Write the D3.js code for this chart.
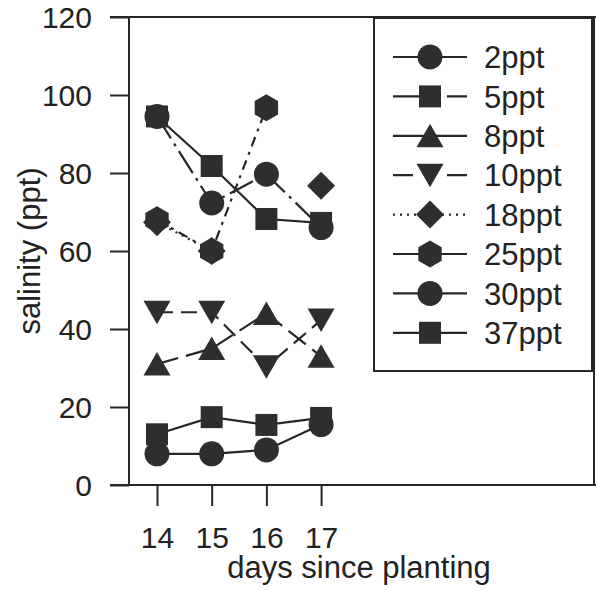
<!DOCTYPE html>
<html>
<head>
<meta charset="utf-8">
<script src="https://cdn.jsdelivr.net/npm/d3@7"></script>
<style>
  body { margin: 0; background: #fff; }
  svg { display: block; }
  text { font-family: "Liberation Sans", Arial, sans-serif; fill: #222; }
</style>
</head>
<body>
<div id="chart"></div>
<script>
// days on the x axis
var days = [14, 15, 16, 17];
var yTicks = [0, 20, 40, 60, 80, 100, 120];

// salinity, one array per treatment (null = no point)
var s2 = [8, 8, 9, 15.5];
var s5 = [13, 17.4, 15.4, 17.2];
var s8 = [31, 35, 44, 33];
var s10 = [44.3, 44.3, 30.3, 42.3];
var s18 = [67.4, 60, null, 76.7];
var s25 = [68, 60, 96.7, null];
var s30 = [94.5, 72.3, 79.7, 66];
var s37 = [94.5, 81.8, 68.2, 67.2];

var seriesNames = ["2ppt", "5ppt", "8ppt", "10ppt", "18ppt", "25ppt", "30ppt", "37ppt"];
var seriesValues = [s2, s5, s8, s10, s18, s25, s30, s37];
var seriesShapes = ["circle", "square", "up", "down", "diamond", "hexagon", "circle", "square"];
var seriesDash = [null, null, "22,8", "16,8", "2,5", "10,6,3,6", "26,6,3,6", null];
// how the short legend segments look
var legendDash = [null, "48,6,30", null, "20,34,30", "2,5", null, null, null];

var W = 597, H = 590;
var ink = "#262626";

var svg = d3.select("#chart").append("svg")
  .attr("width", W)
  .attr("height", H);

var x = d3.scaleLinear().domain([13.488, 21.99]).range([129, 594]);
var y = d3.scaleLinear().domain([0, 120]).range([485, 17]);

// marker outlines
function shape(kind) {
  var p = d3.path();
  if (kind == "circle") {
    p.arc(0, 0, 12.5, 0, 2 * Math.PI);
  } else if (kind == "square") {
    p.rect(-11, -11, 22, 22);
  } else if (kind == "up") {
    p.moveTo(0, -12); p.lineTo(13.5, 11.5); p.lineTo(-13.5, 11.5); p.closePath();
  } else if (kind == "down") {
    p.moveTo(0, 12); p.lineTo(13.5, -11.5); p.lineTo(-13.5, -11.5); p.closePath();
  } else if (kind == "diamond") {
    p.moveTo(0, -14); p.lineTo(14, 0); p.lineTo(0, 14); p.lineTo(-14, 0); p.closePath();
  } else if (kind == "hexagon") {
    for (var i = 0; i < 6; i++) {
      var a = -Math.PI / 2 + i * Math.PI / 3;
      if (i == 0) p.moveTo(13.5 * Math.cos(a), 13.5 * Math.sin(a));
      else p.lineTo(13.5 * Math.cos(a), 13.5 * Math.sin(a));
    }
    p.closePath();
  }
  return p.toString();
}

// frame
svg.append("line").attr("x1", 110).attr("x2", 596).attr("y1", y(120)).attr("y2", y(120))
  .attr("stroke", ink).attr("stroke-width", 2);
svg.append("line").attr("x1", 110).attr("x2", 596).attr("y1", y(0)).attr("y2", y(0))
  .attr("stroke", ink).attr("stroke-width", 2);
svg.append("line").attr("x1", 129).attr("x2", 129).attr("y1", y(120)).attr("y2", y(0))
  .attr("stroke", ink).attr("stroke-width", 2);
svg.append("line").attr("x1", 594).attr("x2", 594).attr("y1", y(120)).attr("y2", y(0))
  .attr("stroke", ink).attr("stroke-width", 2);

// y axis: ticks sticking out to the left
var yAxis = svg.append("g")
  .attr("transform", "translate(129,0)")
  .call(d3.axisLeft(y).tickValues(yTicks).tickSize(19).tickPadding(18).tickSizeOuter(0));
yAxis.select(".domain").remove();
yAxis.selectAll("line").attr("stroke", ink).attr("stroke-width", 2);
yAxis.selectAll("text").style("font-size", "30px").style("font-family", "Liberation Sans, Arial, sans-serif")
  .attr("fill", ink).attr("dy", "0.36em");

// x axis: ticks below the bottom line
var xAxis = svg.append("g")
  .attr("transform", "translate(0," + (y(0) + 1) + ")")
  .call(d3.axisBottom(x).tickValues(days).tickSize(20).tickPadding(21).tickFormat(d3.format("d")));
xAxis.select(".domain").remove();
xAxis.selectAll("line").attr("stroke", ink).attr("stroke-width", 2);
xAxis.selectAll("text").style("font-size", "30px").style("font-family", "Liberation Sans, Arial, sans-serif")
  .attr("fill", ink);

svg.append("text")
  .attr("x", 359).attr("y", 578)
  .attr("text-anchor", "middle")
  .style("font-size", "31px")
  .text("days since planting");

svg.append("text")
  .attr("transform", "translate(40,251) rotate(-90)")
  .attr("text-anchor", "middle")
  .style("font-size", "31px")
  .text("salinity (ppt)");

// lines
var line = d3.line()
  .defined(function(d) { return d.v != null; })
  .x(function(d) { return x(d.day); })
  .y(function(d) { return y(d.v); });

seriesValues.forEach(function(vals, i) {
  var pts = vals.map(function(v, j) { return { day: days[j], v: v }; });
  svg.append("path")
    .datum(pts)
    .attr("d", line)
    .attr("fill", "none")
    .attr("stroke", ink)
    .attr("stroke-width", 2.2)
    .attr("stroke-dasharray", seriesDash[i]);
});

// markers
seriesValues.forEach(function(vals, i) {
  svg.append("g").selectAll("path")
    .data(vals.map(function(v, j) { return { day: days[j], v: v }; }).filter(function(d) { return d.v != null; }))
    .enter().append("path")
    .attr("transform", function(d) { return "translate(" + x(d.day) + "," + y(d.v) + ")"; })
    .attr("d", shape(seriesShapes[i]))
    .attr("fill", "#2e2e2e");
});

// legend
var legend = svg.append("g");
legend.append("rect")
  .attr("x", 374).attr("y", 18).attr("width", 218).attr("height", 353)
  .attr("fill", "none").attr("stroke", ink).attr("stroke-width", 2);

var item = legend.selectAll(".item")
  .data(seriesNames)
  .enter().append("g")
  .attr("class", "item")
  .attr("transform", function(d, i) { return "translate(0," + (57 + i * 39.4) + ")"; });

item.append("line")
  .attr("x1", 393).attr("x2", 467).attr("y1", 0).attr("y2", 0)
  .attr("stroke", ink).attr("stroke-width", 2.2)
  .attr("stroke-dasharray", function(d, i) { return legendDash[i]; });

item.append("path")
  .attr("transform", "translate(430,0)")
  .attr("d", function(d, i) { return shape(seriesShapes[i]); })
  .attr("fill", "#2e2e2e");

item.append("text")
  .attr("x", 484).attr("y", 0).attr("dy", "0.36em")
  .style("font-size", "31px")
  .text(function(d) { return d; });
</script>
</body>
</html>
